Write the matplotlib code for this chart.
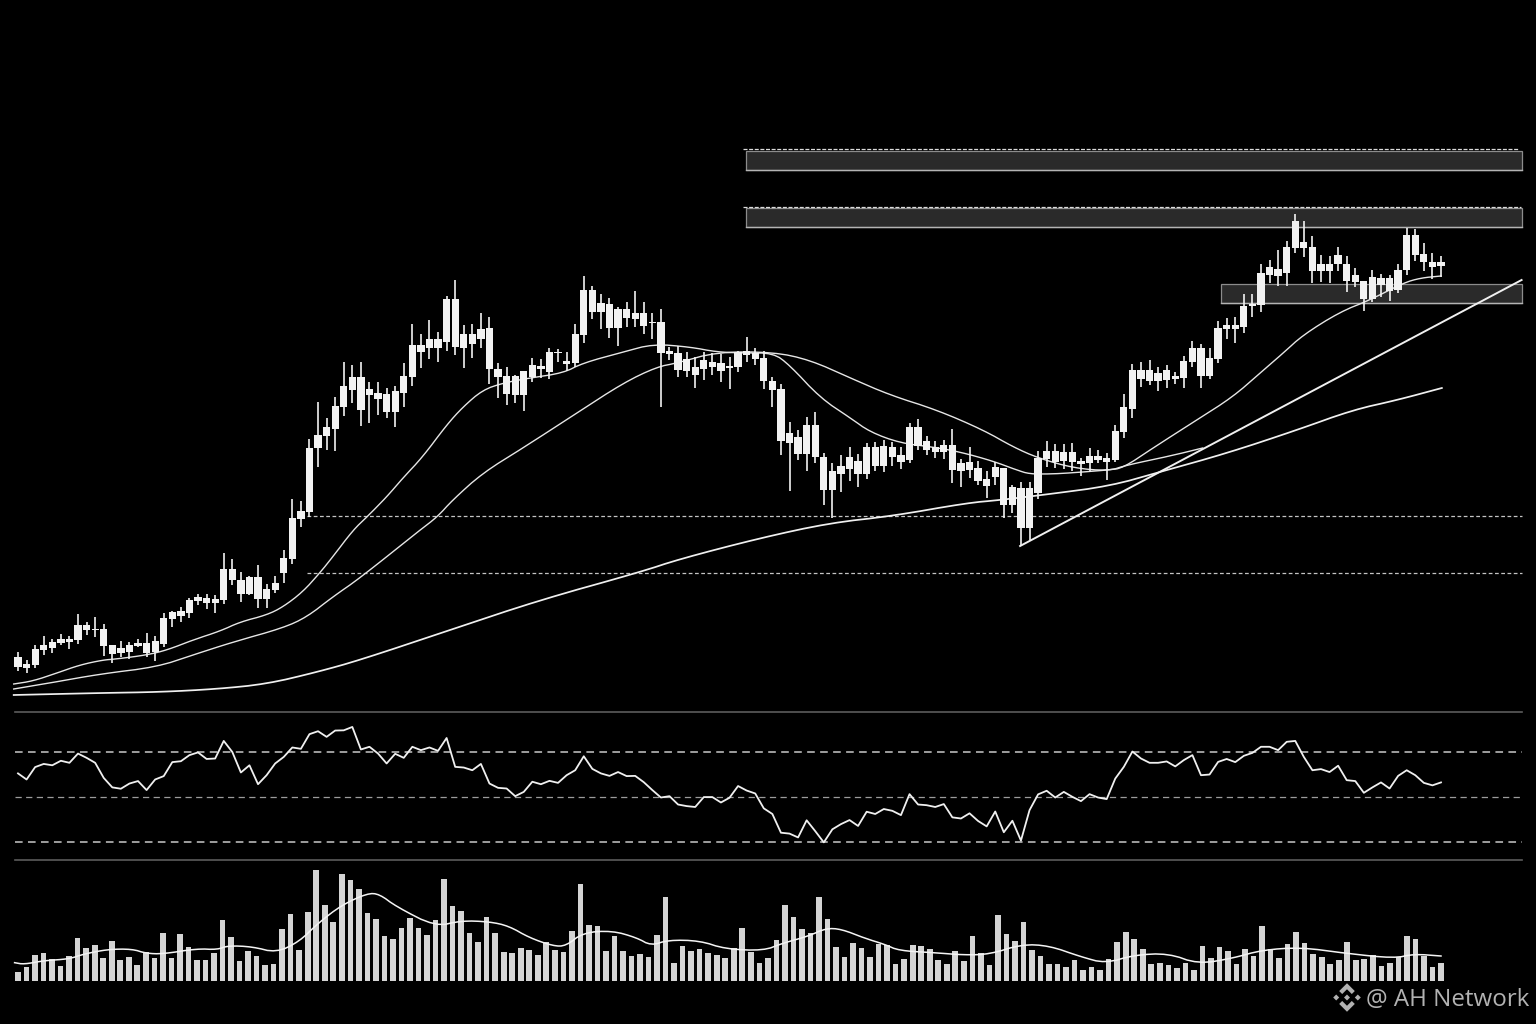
import numpy as np
import matplotlib
matplotlib.use("Agg")
import matplotlib.pyplot as plt
from matplotlib.patches import Polygon, Rectangle

# ---------- candles (price units) ----------
candle_top = [343,336,351,355,358,361,361,375,375,371,371,355,352,355,357,357,359,382,388,389,400,403,402,401,431,431,420,423,423,411,417,442,482,489,552,565,573,594,614,623,623,611,607,606,609,624,655,655,661,661,701,701,666,666,671,672,631,624,624,629,635,634,648,648,639,666,710,710,697,696,691,691,687,687,678,678,649,647,641,633,640,638,637,634,648,649,647,642,619,611,567,563,575,575,543,529,534,543,539,553,553,554,553,545,573,573,559,553,555,555,537,538,532,521,533,532,513,512,512,542,549,549,548,548,539,544,544,542,569,593,630,630,630,627,630,624,639,652,652,642,672,675,675,694,696,727,733,731,753,779,758,753,736,736,745,736,725,719,723,722,722,730,765,765,746,738,738]
candle_bottom = [333,332,335,350,352,357,358,360,370,370,354,346,347,348,354,347,348,356,381,384,387,399,397,397,400,420,406,406,401,401,410,427,441,481,488,552,564,571,593,610,590,605,601,588,588,607,623,648,652,652,658,653,652,656,661,631,623,606,605,605,623,631,628,647,636,637,665,688,688,672,672,682,681,674,677,647,646,630,629,625,631,633,629,632,633,645,641,619,610,559,557,546,546,543,510,510,526,531,526,526,534,534,543,538,540,554,550,548,548,530,529,530,519,514,523,495,495,472,472,507,541,538,539,538,536,537,540,538,540,568,591,621,619,619,620,621,622,638,624,624,641,671,671,673,694,695,725,724,727,752,752,729,729,729,736,719,718,701,701,715,709,710,730,745,738,733,734]
candle_high = [348,340,355,364,361,366,364,386,378,383,376,355,359,358,361,367,364,387,389,393,402,406,406,405,447,441,428,424,435,416,424,450,501,499,561,598,582,603,638,635,638,618,618,612,614,637,676,666,680,668,704,720,675,676,687,683,637,633,625,629,642,641,652,651,648,676,724,714,706,702,693,698,709,698,687,691,653,654,648,643,648,647,646,643,649,663,652,649,623,616,578,570,583,588,547,537,545,553,546,557,558,560,558,553,577,581,564,559,560,571,541,553,539,529,538,532,515,518,518,549,559,556,556,557,542,552,550,547,575,606,636,638,640,633,635,628,644,659,656,652,679,682,683,706,706,736,740,750,759,786,779,764,745,744,753,744,732,719,730,726,725,736,772,771,757,747,744]
candle_low = [329,327,332,345,347,355,351,356,365,363,344,337,343,341,353,343,339,353,373,378,382,395,391,387,396,415,398,405,392,392,407,417,436,473,483,533,550,549,584,597,574,577,585,582,573,593,614,632,641,638,649,645,632,642,652,616,602,595,597,589,618,622,621,638,629,633,657,681,671,662,654,673,673,666,661,593,640,623,623,612,620,625,618,611,628,638,635,611,593,545,509,540,529,537,495,482,508,519,513,521,529,528,534,531,537,550,545,542,541,517,513,522,515,502,515,482,487,454,460,501,533,532,531,529,524,528,537,520,538,562,582,613,615,609,612,616,612,633,612,621,637,661,657,667,683,688,717,714,714,747,743,717,718,717,729,708,713,689,698,703,699,707,725,739,729,721,723]

# ---------- moving averages: bar number and price ----------
fast_bar = [-0.5,1.75,4.55,7.2,9.9,11.5,15,17.4,20.4,23.6,25.9,29,30.9,33.2,35.2,36.7,39.1,40.7,43,44.9,47.2,50,51.9,54.2,56.6,59.7,63.6,65.9,70.6,74.1,78.4,81.5,84.6,88.1,90,93.6,97.1,99.4,102.9,106.7,109.9,113.7,116.5,118,120.4,122.7,127.2,128.9,132.4,137.5,141.7,144.9,147.6,149.9,154.2,157.7,161.6,163.6,166]
fast_val = [316,319,327,335,340,341,345,350,360,369,378,385,393,408,427,443,470,483,503,522,543,575,593,610,617,622,627,637,648,656,653,648,647,647,635,602,582,568,557,553,548,539,530,526,526,527,530,532,552,580,603,627,647,665,688,700,717,722,724]
mid_bar = [-0.5,3.7,9.6,16.2,20.4,25.1,30.9,33.7,36.7,39.9,46.9,48.9,50.7,54.2,58.9,65.2,70.6,74.5,76.9,81.5,88.1,92.4,97.1,101.7,107.2,112.6,116.1,119,123.1,127.2,129.4,134.4,138.2]
mid_val = [311,317,326,333,345,358,372,383,403,422,470,483,500,527,552,587,617,633,637,648,648,640,622,605,590,570,553,542,532,529,535,544,552]
slow_bar = [-0.5,9.6,16.6,23.2,29,34.9,39.9,50.4,60.9,72.6,77.2,86.6,94.7,102,110.7,114.6,120.4,127.4,133.2,141.1,149.2,155.7,160.9,166.1]
slow_val = [305,307,308,311,316,328,340,370,400,428,441,462,477,484,497,500,506,514,528,547,570,590,600,612]

# ---------- levels ----------
trend_bar = [116.9, 175.4]
trend_val = [454, 720]
zone_left = [84.9, 84.9, 140.3]
zone_right = [175.5, 175.5, 175.5]
zone_low = [830, 773, 697]
zone_high = [849.5, 792.5, 716]
zone_dash_left = [84.6, 84.6]
zone_dash_right = [175.0, 175.3]
zone_dash_val = [851.5, 793]
level_left = [33.7, 33.7]
level_val = [484, 427.5]

# ---------- RSI ----------
rsi = [60.6,57.9,63.4,64.8,64.2,66.2,65.3,69.4,67.5,65.3,58.6,54.4,53.8,56.1,57.2,53.2,57.9,59.4,65.6,66,68.7,69.9,67,67.2,75,70.1,61,64.2,55.8,59.8,65,67.9,72.1,71.5,78,79.3,76.8,79.6,79.7,81.2,71.2,72.4,69.4,65,69.3,67.5,72.4,70.9,72.1,70.6,76.3,63.5,63.2,62,64.8,56.1,54.2,53.9,50.5,52.4,56.9,55.8,57.3,56.4,59.8,62,68.2,62.6,60.6,59.5,61.2,59.4,59.5,56.7,53.2,49.9,50.5,46.8,46.1,45.7,50.1,50.1,47.7,49.8,55,53,51.7,45.1,
       42.6,34.3,33.9,32.2,39.8,35,30,35.8,38.1,39.9,37.3,43.6,42.6,44.8,44,42.1,51.4,46.8,46.5,45.7,47,41.1,40.6,42.9,39.5,37.1,43.7,34.5,39.6,30.8,44.3,51.3,52.9,49.9,52.4,50.2,48.3,51.4,49.9,49.2,58.3,63.5,70.3,67.2,65.3,65.3,65.9,63.7,66.5,68.7,59.8,60.1,65.7,67,65.6,68.4,69.7,72.4,72.4,70.9,74.6,75,67.9,62,62.5,61.2,64,57.6,57.2,52,54.4,56.6,53.9,59.5,62,59.8,56.4,55.3,56.6]
rsi_levels = [70, 50, 30]

# ---------- volume ----------
volume = [26,41,77,83,65,44,75,128,100,109,68,121,64,72,47,88,70,143,68,141,101,62,62,84,183,132,60,91,76,49,51,155,200,92,208,334,227,177,322,304,276,203,185,135,126,158,189,160,137,183,305,226,210,143,116,192,144,88,83,98,93,78,116,92,88,150,291,167,164,90,136,90,74,81,73,139,253,54,106,91,95,85,77,68,100,158,88,55,69,
          123,227,191,155,145,251,185,103,71,113,98,71,111,108,52,65,109,104,95,63,51,91,60,136,85,48,199,141,120,177,93,75,50,50,42,63,34,42,32,65,116,146,126,97,51,53,47,38,54,34,106,69,103,91,52,96,75,165,95,68,112,147,113,81,72,50,62,117,63,65,77,46,53,71,134,125,75,43,53]
vol_ma_bar = [-0.4,0.7,3,6,7.6,10.5,13.4,15,17,21,23.4,24.6,27.5,30.3,33,35.2,38,41,42.4,44.4,49,52,55.3,57.6,60,62.8,64.3,66.3,69.7,72.6,74.3,76.3,80,83,87.5,89.7,92.8,94.8,96.6,99.4,101.7,103.4,107.5,111,114,117.8,121,124.7,127.6,131,135,138.5,142.5,146,150.6,155.8,161.5,163.8,167]
vol_ma_val = [55,50,61,66,80,95,96,83,81,97,94,106,103,85,118,173,228,263,261,223,163,181,178,165,130,105,105,145,151,130,106,123,121,96,91,113,135,158,156,128,110,91,85,78,80,110,106,73,53,78,83,51,68,93,101,83,68,81,75]

# ---------- watermark ----------
watermark = "@ AH Network"

INK = "#f2f2f2"
BG = "#000000"
W, H = 1536, 1024
plt.rcParams["font.family"] = ["Open Sans", "DejaVu Sans"]
fig = plt.figure(figsize=(W / 100, H / 100), dpi=100, facecolor=BG)


def panel(top, bottom):
    ax = fig.add_axes([0, 1 - bottom / H, 1, (bottom - top) / H], facecolor="none")
    ax.set_axis_off()
    return ax


def rounded(x, y, passes=2):
    """Round the corners of a polyline when it is drawn (Chaikin corner cutting)."""
    p = np.column_stack([x, y]).astype(float)
    for _ in range(passes):
        q = 0.75 * p[:-1] + 0.25 * p[1:]
        r = 0.25 * p[:-1] + 0.75 * p[1:]
        mid = np.empty((2 * len(q), 2))
        mid[0::2], mid[1::2] = q, r
        p = np.vstack([p[:1], mid, p[-1:]])
    return p[:, 0], p[:, 1]


# price panel
step = (1441 - 18) / 166
xlim_price = (-18 / step, (W - 18) / step)
ax = panel(0, 712)
ax.set_xlim(*xlim_price)
ax.set_ylim(288, 1000)

for x0, x1, lo, hi in zip(zone_left, zone_right, zone_low, zone_high):
    ax.add_patch(Rectangle((x0, lo), x1 - x0, hi - lo, facecolor="#2a2a2a", edgecolor="#8c8c8c", lw=0.9, zorder=1))
    ax.plot([x0, x1], [lo, lo], color="#b4b4b4", lw=1.0, zorder=2)
for x0, x1, v in zip(zone_dash_left, zone_dash_right, zone_dash_val):
    ax.plot([x0, x1], [v, v], color="#dcdcdc", lw=0.9, dashes=(3.2, 1.3), zorder=2)
for x0, v in zip(level_left, level_val):
    ax.plot([x0, 175.5], [v, v], color="#c4c4c4", lw=0.9, dashes=(3, 2), zorder=2)

ax.plot(*rounded(fast_bar, fast_val), color="#e6e6e6", lw=1.0, zorder=3)
ax.plot(*rounded(mid_bar, mid_val), color="#e6e6e6", lw=1.0, zorder=3)
ax.plot(*rounded(slow_bar, slow_val), color="#f0f0f0", lw=1.25, zorder=3)
ax.plot(trend_bar, trend_val, color="#f0f0f0", lw=1.4, zorder=3)

bars = np.arange(len(candle_top))
ctop = np.array(candle_top)
cbot = np.array(candle_bottom)
ax.vlines(bars, candle_low, candle_high, color=INK, lw=1.2, zorder=4)
ax.bar(bars, ctop - cbot, bottom=cbot, width=0.85, color=INK, edgecolor="none", zorder=5)

# RSI panel
rx = panel(712, 859.5)
rx.set_xlim(*xlim_price)
rx.set_ylim(50 - (859.5 - 797.3) / 2.255, 50 + (797.3 - 712) / 2.255)
sep_color = "#5c5c5c"
rx.plot([-0.35, 175.5], [rx.get_ylim()[1]] * 2, color=sep_color, lw=1.2, clip_on=False)
rx.plot([-0.35, 175.5], [rx.get_ylim()[0]] * 2, color=sep_color, lw=1.2, clip_on=False)
for lv, lw_, col in zip(rsi_levels, [1.1, 0.9, 1.1], ["#c8c8c8", "#9c9c9c", "#c8c8c8"]):
    rx.plot([-0.35, 175.5], [lv, lv], color=col, lw=lw_, dashes=(5, 3.5))
rx.plot(np.arange(len(rsi)), rsi, color="#f0f0f0", lw=1.3, zorder=3)

# volume panel
vstep = (1441 - 18) / (len(volume) - 1)
vx = panel(859.5, 981)
vx.set_xlim(-18 / vstep, (W - 18) / vstep)
vx.set_ylim(0, 364.5)
vx.bar(np.arange(len(volume)), volume, width=0.66, color="#d4d4d4", edgecolor="none", zorder=2)
vx.plot(*rounded(vol_ma_bar, vol_ma_val), color="#f4f4f4", lw=1.1, zorder=3)

# watermark
mark = "#b2b2b2"
fig.text(1366.5 / W, 1 - 1000.5 / H, watermark, color=mark, fontsize=17.4, va="center", ha="left")
lg = fig.add_axes([(1347 - 15) / W, 1 - (997.5 + 15) / H, 30 / W, 30 / H], facecolor="none")
lg.set_axis_off()
lg.set_xlim(-1, 1)
lg.set_ylim(-1, 1)
chevron = np.array([[0, 0.95], [0.52, 0.43], [0.32, 0.23], [0, 0.55], [-0.32, 0.23], [-0.52, 0.43]])
lg.add_patch(Polygon(chevron, color=mark, lw=0))
lg.add_patch(Polygon(chevron * [1, -1], color=mark, lw=0))
for cx in (-0.72, 0, 0.72):
    hw = 0.2
    lg.add_patch(Polygon([[cx, hw], [cx + hw, 0], [cx, -hw], [cx - hw, 0]], color=mark, lw=0))

assert len(fast_bar) == len(fast_val) and len(mid_bar) == len(mid_val) and len(slow_bar) == len(slow_val)
assert len(vol_ma_bar) == len(vol_ma_val)
fig.savefig("out.png", dpi=100, facecolor=BG)
